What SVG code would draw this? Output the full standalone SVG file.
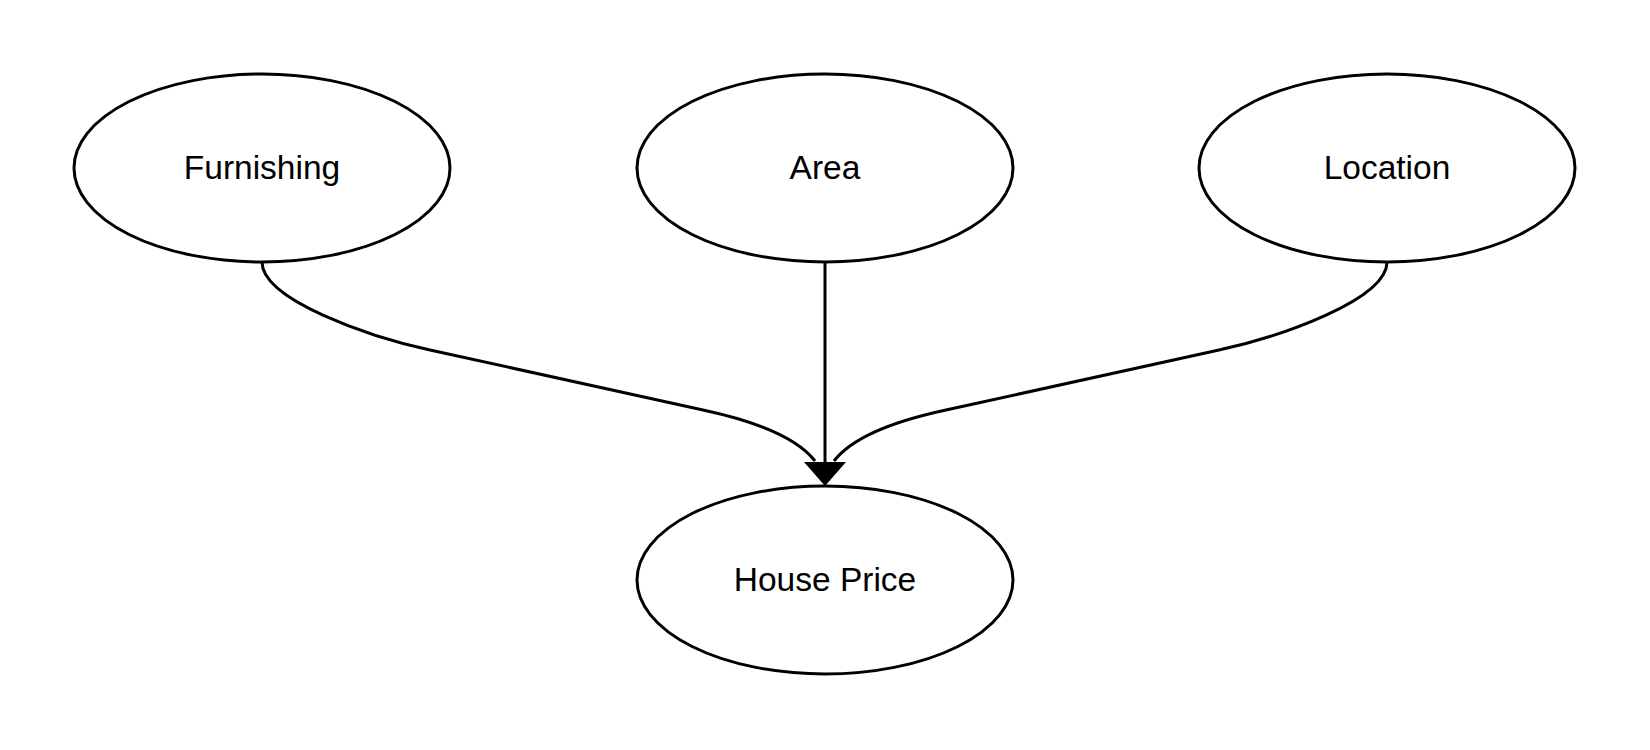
<svg xmlns="http://www.w3.org/2000/svg" width="1650" height="750" viewBox="0 0 1650 750">
  <style>
    .node ellipse { fill: #ffffff; stroke: #000000; stroke-width: 3; }
    .node text { font-family: "Liberation Sans", Arial, sans-serif; font-size: 33.5px; fill: #000000; text-anchor: middle; }
    .edge { fill: none; stroke: #000000; stroke-width: 3; }
  </style>
  <defs>
    <marker id="arrow" markerUnits="userSpaceOnUse" markerWidth="30" markerHeight="50" refX="8" refY="0" orient="auto" overflow="visible">
      <path d="M0,-21 L24,0 L0,21 z" fill="#000000"/>
    </marker>
  </defs>
  <rect width="1650" height="750" fill="#ffffff"/>
  <g id="connectors">
    <path class="edge" d="M262 262 C262 300 370 337 430 350 L703 410 C745 419 795 435 815 461"/>
    <path class="edge" d="M1387 262 C1387 300 1279 337 1219 350 L946 410 C904 419 854 435 834 461"/>
    <path class="edge" d="M825 262 L825 470" marker-end="url(#arrow)"/>
  </g>
  <g id="node-furnishing" class="node">
    <ellipse cx="262" cy="168" rx="188" ry="94"/>
    <text x="262" y="179">Furnishing</text>
  </g>
  <g id="node-area" class="node">
    <ellipse cx="825" cy="168" rx="188" ry="94"/>
    <text x="825" y="179">Area</text>
  </g>
  <g id="node-location" class="node">
    <ellipse cx="1387" cy="168" rx="188" ry="94"/>
    <text x="1387" y="179">Location</text>
  </g>
  <g id="node-house-price" class="node">
    <ellipse cx="825" cy="580" rx="188" ry="94"/>
    <text x="825" y="591">House Price</text>
  </g>
</svg>
